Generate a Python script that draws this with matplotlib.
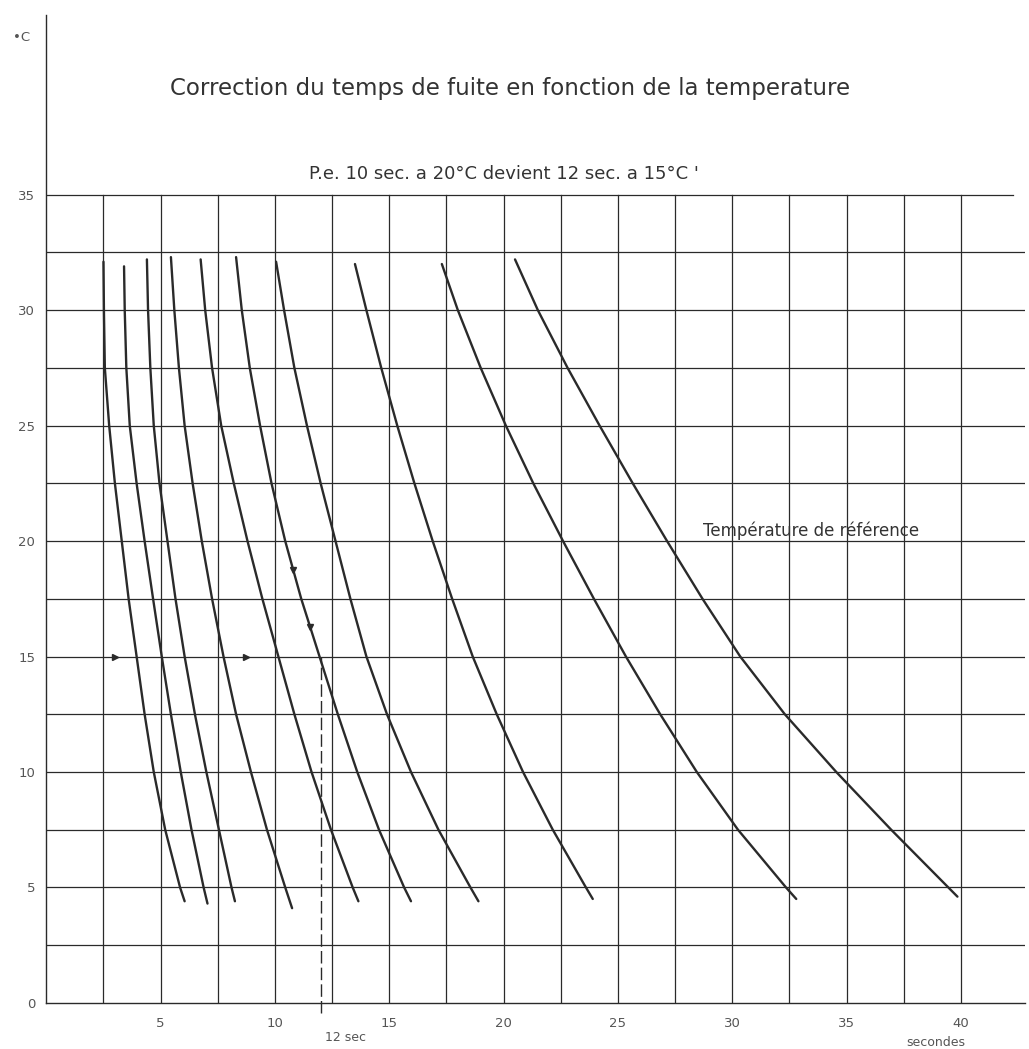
import numpy as np
import matplotlib.pyplot as plt

# temperatures (degC) where the curves were read, between their top and bottom ends
temps_mid = [30, 27.5, 25, 22.5, 20, 17.5, 15, 12.5, 10, 7.5, 5]
t_top = [32.1, 31.9, 32.2, 32.3, 32.2, 32.3, 32.1, 32.0, 32.0, 32.2]
t_bottom = [4.4, 4.3, 4.4, 4.1, 4.4, 4.4, 4.4, 4.5, 4.5, 4.6]

# flow time (s) of each curve: top end, temps_mid, bottom end
curve_1 = [2.5, 2.52, 2.56, 2.75, 3.0, 3.3, 3.6, 3.95, 4.3, 4.7, 5.2, 5.85, 6.05]
curve_2 = [3.4, 3.43, 3.5, 3.65, 3.95, 4.3, 4.67, 5.05, 5.45, 5.88, 6.35, 6.88, 7.05]
curve_3 = [4.4, 4.45, 4.55, 4.7, 4.95, 5.3, 5.65, 6.05, 6.5, 7.0, 7.55, 8.1, 8.25]
curve_4 = [5.45, 5.6, 5.8, 6.05, 6.4, 6.8, 7.25, 7.75, 8.3, 8.95, 9.65, 10.45, 10.75]
curve_5 = [6.75, 6.95, 7.25, 7.65, 8.2, 8.8, 9.45, 10.15, 10.85, 11.6, 12.45, 13.4, 13.65]
curve_6 = [8.3, 8.55, 8.9, 9.35, 9.85, 10.45, 11.15, 11.95, 12.75, 13.6, 14.55, 15.65, 15.95]
curve_7 = [10.05, 10.4, 10.85, 11.4, 12.0, 12.65, 13.3, 14.0, 14.9, 15.95, 17.15, 18.55, 18.9]
curve_8 = [13.5, 14.0, 14.65, 15.35, 16.1, 16.9, 17.75, 18.65, 19.7, 20.85, 22.15, 23.6, 23.9]
curve_9 = [17.3, 18.0, 19.0, 20.1, 21.3, 22.6, 23.95, 25.35, 26.85, 28.45, 30.25, 32.35, 32.8]
curve_10 = [20.5, 21.5, 22.8, 24.2, 25.65, 27.15, 28.7, 30.35, 32.3, 34.55, 36.95, 39.45, 39.85]

curves = [curve_1, curve_2, curve_3, curve_4, curve_5,
          curve_6, curve_7, curve_8, curve_9, curve_10]

# reading example: 10 s at 20 degC -> 12 s at 15 degC
example_time = 12
example_temp = 15
arrow_x_on_15 = [3.0, 8.75]
arrow_temps_on_curve = [18.75, 16.3]

x_ticks = [5, 10, 15, 20, 25, 30, 35, 40]
y_ticks = [0, 5, 10, 15, 20, 25, 30, 35]

ink = '#2a2a2a'
label_col = '#555555'

fig = plt.figure(figsize=(10.29, 10.49), dpi=100)
ax = fig.add_axes([0.045, 0.044, 0.951, 0.942])
ax.set_xlim(0, 42.8)
ax.set_ylim(0, 42.8)

# grid of the chart paper
for y in np.arange(2.5, 35.1, 2.5):
    x_end = 42.3 if y == 35 else 42.8
    ax.plot([0, x_end], [y, y], color=ink, lw=0.9, zorder=1)
for x in np.arange(2.5, 40.1, 2.5):
    ax.plot([x, x], [0, 35], color=ink, lw=0.9, zorder=1)

for c, top, bot in zip(curves, t_top, t_bottom):
    temps = [top] + temps_mid + [bot]
    ax.plot(c, temps, color=ink, lw=1.7, solid_capstyle='round',
            solid_joinstyle='round', zorder=3)

ax.plot([example_time, example_time], [-0.45, example_temp], color=ink, lw=1.0,
        dashes=(9, 3), clip_on=False, zorder=2)
ax.plot(arrow_x_on_15, [example_temp] * len(arrow_x_on_15), ls='none', marker='>',
        ms=5, color=ink, zorder=4)
t6 = [t_top[5]] + temps_mid + [t_bottom[5]]
arrow_x_on_curve = np.interp(arrow_temps_on_curve, t6[::-1], curve_6[::-1])
ax.plot(arrow_x_on_curve, arrow_temps_on_curve, ls='none', marker='v', ms=5,
        color=ink, zorder=4)

ax.spines['top'].set_visible(False)
ax.spines['right'].set_visible(False)
for s in ['left', 'bottom']:
    ax.spines[s].set_color(ink)
    ax.spines[s].set_linewidth(1.0)

ax.set_xticks(x_ticks)
ax.set_yticks(y_ticks)
ax.tick_params(length=0, labelsize=9.5, colors=label_col, pad=8)
ax.tick_params(axis='x', pad=10)

ax.text(-1.1, 41.8, '\u2022C', fontsize=9.5, color=label_col, ha='center', va='center')
ax.text(20.3, 39.6, 'Correction du temps de fuite en fonction de la temperature',
        fontsize=16.5, color='#333333', ha='center', va='center')
ax.text(20.0, 35.9, "P.e. 10 sec. a 20\u00b0C devient 12 sec. a 15\u00b0C '",
        fontsize=13, color='#333333', ha='center', va='center')
ax.text(28.7, 20.2, 'Temp\u00e9rature de r\u00e9f\u00e9rence',
        fontsize=12, color='#333333', ha='left', va='baseline')
ax.text(13.1, -1.5, '12 sec', fontsize=9, color=label_col, ha='center', va='center')
ax.text(38.9, -1.7, 'secondes', fontsize=9, color=label_col, ha='center', va='center')

fig.savefig('out.png', dpi=100)
